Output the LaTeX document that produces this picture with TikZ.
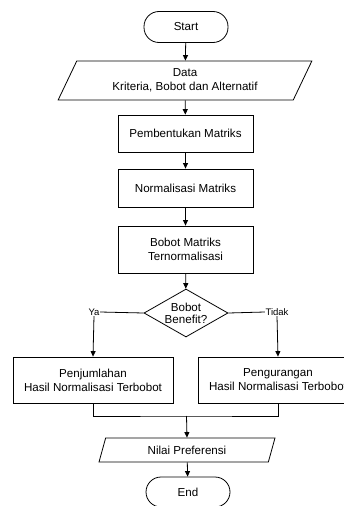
\documentclass[tikz,border=0pt]{standalone}
\usepackage{fontspec}
\setmainfont{Liberation Sans}
\usetikzlibrary{shapes.geometric,arrows.meta}
\begin{document}
\begin{tikzpicture}[x=1pt,y=-1pt,
  every node/.style={font=\fontsize{11.6}{14}\selectfont, align=center},
  terminal/.style={draw, line width=0.8pt, rounded corners=15pt, minimum width=84pt, minimum height=31pt, inner sep=0pt},
  procbox/.style={draw, line width=0.8pt, minimum width=135pt, inner sep=0pt},
  iobox/.style={draw, line width=0.8pt, trapezium, trapezium stretches=true, inner sep=0pt},
  decision/.style={draw, line width=0.8pt, diamond, aspect=1.75, minimum width=84pt, minimum height=48pt, inner sep=0pt},
  branchlabel/.style={font=\fontsize{9.5}{11}\selectfont, fill=white, inner sep=0.5pt},
  conn/.style={line width=0.8pt},
  arr/.style={line width=0.8pt, -{Triangle[length=5.5pt,width=5pt]}}
]
\useasboundingbox (0,0) rectangle (344,506);
\node[terminal] (start) at (186,27) {Start};
\node[iobox, trapezium left angle=62, trapezium right angle=118, minimum width=254pt, minimum height=39pt] (data) at (185,80.5) {Data\\Kriteria, Bobot dan Alternatif};
\node[procbox, minimum height=37pt] (b1) at (185.5,133.5) {Pembentukan Matriks};
\node[procbox, minimum height=38pt] (b2) at (185.5,188) {Normalisasi Matriks};
\node[procbox, minimum height=47pt] (b3) at (185.5,249.5) {Bobot Matriks\\Ternormalisasi};
\node[decision] (dec) at (186,313) {Bobot\\[-2pt]Benefit?};
\node[branchlabel] (ya) at (94,312) {Ya};
\node[branchlabel] (tidak) at (277,312) {Tidak};
\node[procbox, minimum width=160pt, minimum height=46pt] (left) at (93,380) {Penjumlahan\\Hasil Normalisasi Terbobot};
\node[procbox, minimum width=160pt, minimum height=46pt] (right) at (278,380) {Pengurangan\\Hasil Normalisasi Terbobot};
\coordinate (merge) at (186.5,416);
\node[iobox, trapezium left angle=69.4, trapezium right angle=110.6, minimum width=177pt, minimum height=24pt] (nilai) at (187,450) {Nilai Preferensi};
\node[terminal, minimum height=30pt] (end) at (188,492) {End};

\draw[arr] (start) -- (data);
\draw[arr] (data) -- (b1);
\draw[arr] (b1) -- (b2);
\draw[arr] (b2) -- (b3);
\draw[arr] (b3) -- (dec);
\draw[conn] (dec.west) -- (ya.east);
\draw[conn] (dec.east) -- (tidak.west);
\draw[arr] (ya.south) -- (left.north);
\draw[arr] (tidak.south) -- (right.north);
\draw[conn] (left.south) |- (merge) -| (right.south);
\draw[arr] (merge) -- (nilai.north);
\draw[arr] (nilai) -- (end);
\end{tikzpicture}
\end{document}
